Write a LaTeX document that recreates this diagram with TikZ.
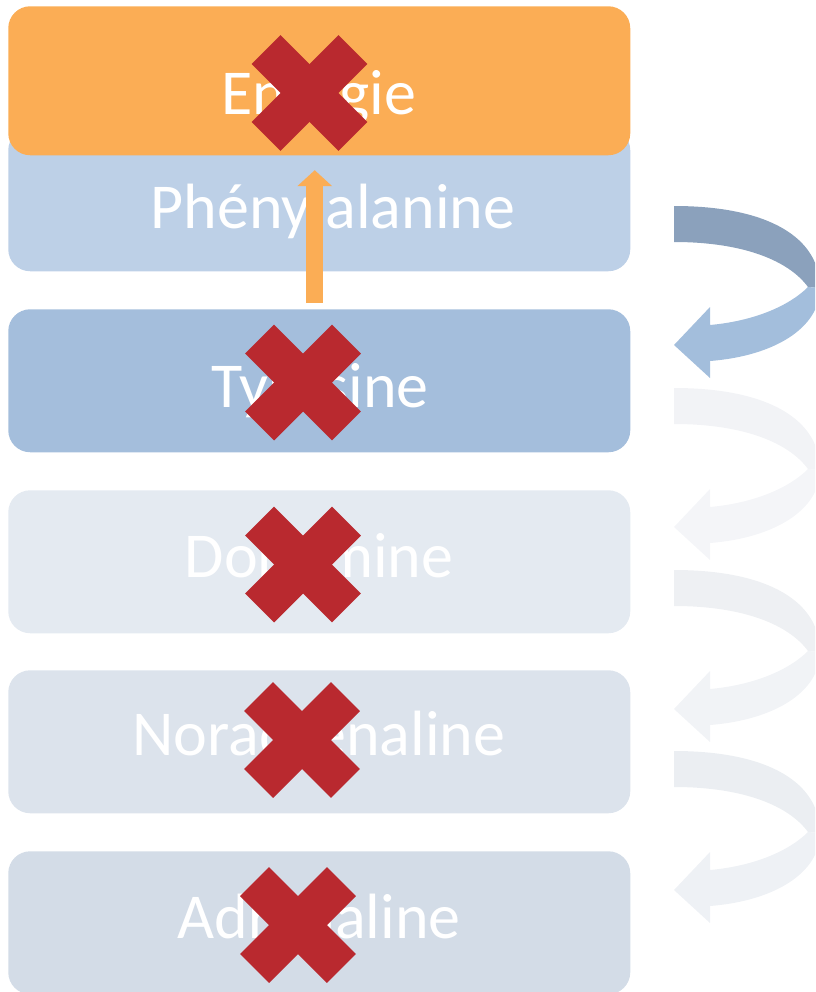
\documentclass[tikz,border=0pt]{standalone}
\usepackage{fontspec}
\setmainfont{Carlito}
\usetikzlibrary{arrows.meta,positioning}
\definecolor{energyorange}{HTML}{FBAD55}
\definecolor{pheblue}{HTML}{BDD0E7}
\definecolor{tyrblue}{HTML}{A4BEDC}
\definecolor{dopgrey}{HTML}{E4EAF1}
\definecolor{norgrey}{HTML}{DCE3EC}
\definecolor{adrgrey}{HTML}{D3DCE7}
\definecolor{crossred}{HTML}{B9292F}
\definecolor{cycdark}{HTML}{8BA1BC}
\definecolor{cyclight}{HTML}{A3BEDC}
\definecolor{fadeAup}{HTML}{F2F3F6}
\definecolor{fadeAlo}{HTML}{F4F5F8}
\definecolor{fadeBup}{HTML}{EEF0F3}
\definecolor{fadeBlo}{HTML}{F1F3F6}
\definecolor{fadeCup}{HTML}{EBEEF2}
\definecolor{fadeClo}{HTML}{EEF1F5}

\begin{document}
\begin{tikzpicture}[x=0.75pt, y=-0.75pt,
    level/.style={rectangle, rounded corners=16.5pt, minimum width=466.5pt, minimum height=107.25pt, anchor=north west, inner sep=0pt},
    lbl/.style={text=white, font=\fontsize{48}{52}\selectfont, anchor=base, inner sep=0pt},
    uparrow/.style={draw=energyorange, line width=12.5pt, -{Triangle[width=25.5pt, length=12pt]}},
    knock/.style={fill=crossred}
]
    \useasboundingbox (0,0) rectangle (815,992);

    % Metabolic levels
    \node[level, fill=pheblue] (phe) at (8,128) {};
    \node[level, fill=energyorange, minimum height=111.75pt] (ener) at (8,6) {};
    \node[level, fill=tyrblue] (tyr) at (8,309) {};
    \node[level, fill=dopgrey] (dop) at (8,490) {};
    \node[level, fill=norgrey] (nor) at (8,670) {};
    \node[level, fill=adrgrey] (adr) at (8,851) {};

    % Labels
    \node[lbl] (ener-t) at (319,114) {Energie};
    \node[lbl] (phe-t) at (333,228) {Phénylalanine};
    \node[lbl] (tyr-t) at (320,407) {Tyrosine};
    \node[lbl] (dop-t) at (319,577) {Dopamine};
    \node[lbl] (nor-t) at (319,755) {Noradrénaline};
    \node[lbl] (adr-t) at (319,938) {Adrénaline};

    % Conversion arrow
    \draw[uparrow] ([xshift=-3.4pt, yshift=4.5pt]tyr.north) -- ([xshift=-3.4pt, yshift=-11pt]ener.south);

    % Cycle arrows on the right
    \begin{scope}
        \clip (0,0) rectangle (815,992);
        \foreach \t/\cu/\cl in {206/cycdark/cyclight, 388/fadeAup/fadeAlo, 570/fadeBup/fadeBlo, 751/fadeCup/fadeClo} {
            \fill[\cu, shift={(674,\t)}] (0,0) .. controls (95,0) and (146,32) .. (146,82) -- (134,81) .. controls (115,55) and (70,36) .. (0,36) -- cycle;
            \fill[\cl, shift={(674,\t)}] (146,82) .. controls (146,122) and (100,150) .. (36,155) -- (36,172) -- (0,139) -- (36,101) -- (36,119) .. controls (80,115) and (115,100) .. (134,81) -- cycle;
        }
    \end{scope}

    % Blocked steps
    \foreach \cx/\cy in {309.5/93, 303/382.5, 303/564.5, 302/740, 298/925} {
        \fill[knock, shift={(\cx,\cy)}, rotate=45] (-61.5,-20.5) rectangle (61.5,20.5);
        \fill[knock, shift={(\cx,\cy)}, rotate=-45] (-61.5,-20.5) rectangle (61.5,20.5);
    }
\end{tikzpicture}
\end{document}
